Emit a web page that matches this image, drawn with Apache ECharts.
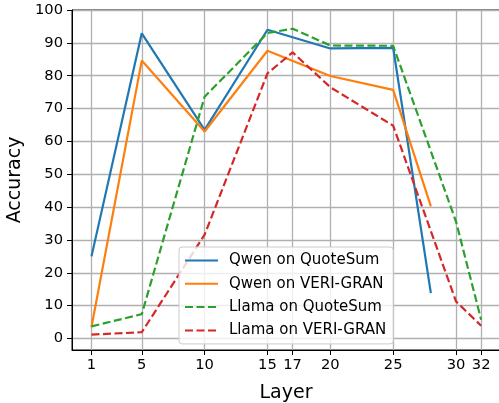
<!DOCTYPE html>
<html>
<head>
<meta charset="utf-8">
<script src="https://cdn.jsdelivr.net/npm/echarts@6/dist/echarts.min.js"></script>
<style>
html,body{margin:0;padding:0;background:#fff;}
#main{width:499px;height:403px;}
</style>
</head>
<body>
<div id="main"></div>
<script>
var chart = echarts.init(document.getElementById('main'), null, {renderer: 'canvas'});

// layers probed
var qwenLayers = [1, 5, 10, 15, 20, 25, 28];
var llamaLayers = [1, 5, 10, 15, 17, 20, 25, 30, 32];
// accuracy values
var qwenQuoteSum = [25.0, 92.9, 63.5, 94.0, 88.3, 88.5, 13.8];
var qwenVeriGran = [3.5, 84.6, 63.0, 87.6, 79.9, 75.7, 40.2];
var llamaQuoteSum = [3.7, 7.4, 73.6, 93.0, 94.3, 89.2, 89.1, 35.6, 5.7];
var llamaVeriGran = [1.2, 1.9, 31.6, 80.7, 87.1, 76.5, 64.8, 11.3, 3.9];
// tick labels
var xTicks = [1, 5, 10, 15, 17, 20, 25, 30, 32];
var yTicks = [0, 10, 20, 30, 40, 50, 60, 70, 80, 90, 100];

var font = 'DejaVu Sans';

function pairs(xs, ys) {
    return xs.map(function (x, i) { return [x, ys[i]]; });
}

function makeSeries(name, xs, ys, color, dashed) {
    return {
        name: name,
        type: 'line',
        data: pairs(xs, ys),
        symbol: 'none',
        animation: false,
        lineStyle: {
            color: color,
            width: 2.2,
            type: dashed ? [8, 3.5] : 'solid'
        },
        itemStyle: {color: color}
    };
}

var option = {
    backgroundColor: '#fff',
    animation: false,
    grid: {
        left: 72,
        right: -1,
        top: 10,
        bottom: 53,
        outerBoundsMode: 'none',
        containLabel: false,
        show: true,
        borderColor: '#000',
        borderWidth: 1,
        backgroundColor: 'transparent'
    },
    legend: {
        orient: 'vertical',
        left: 179,
        top: 247,
        padding: [6, 7, 6, 5],
        itemWidth: 33,
        itemHeight: 14,
        itemGap: 8.3,
        backgroundColor: 'rgba(255,255,255,0.8)',
        borderColor: '#cccccc',
        borderWidth: 1,
        borderRadius: 3,
        itemStyle: {color: 'transparent', borderWidth: 0, opacity: 0},
        textStyle: {
            fontFamily: font,
            fontSize: 15,
            color: '#000',
            padding: [0, 0, 0, 6]
        }
    },
    xAxis: {
        type: 'value',
        min: -0.55,
        max: 33.5,
        name: 'Layer',
        nameLocation: 'middle',
        nameGap: 34,
        nameTextStyle: {fontFamily: font, fontSize: 19, color: '#000'},
        axisLine: {show: true, onZero: false, lineStyle: {color: '#000', width: 1}},
        axisTick: {show: true, customValues: xTicks, length: 5, lineStyle: {color: '#000'}},
        axisLabel: {
            customValues: xTicks,
            margin: 8,
            fontFamily: font,
            fontSize: 14.7,
            color: '#000'
        },
        splitLine: {show: true, lineStyle: {color: '#b0b0b0', width: 1.3}}
    },
    yAxis: {
        type: 'value',
        min: -3.5,
        max: 100,
        name: 'Accuracy',
        nameLocation: 'middle',
        nameGap: 47,
        nameTextStyle: {fontFamily: font, fontSize: 19, color: '#000'},
        axisLine: {show: true, onZero: false, lineStyle: {color: '#000', width: 1}},
        axisTick: {show: true, customValues: yTicks, length: 5, lineStyle: {color: '#000'}},
        axisLabel: {
            customValues: yTicks,
            margin: 9,
            fontFamily: font,
            fontSize: 14.7,
            color: '#000'
        },
        splitLine: {show: true, lineStyle: {color: '#b0b0b0', width: 1.3}}
    },
    series: [
        makeSeries('Qwen on QuoteSum', qwenLayers, qwenQuoteSum, '#1f77b4', false),
        makeSeries('Qwen on VERI-GRAN', qwenLayers, qwenVeriGran, '#ff7f0e', false),
        makeSeries('Llama on QuoteSum', llamaLayers, llamaQuoteSum, '#2ca02c', true),
        makeSeries('Llama on VERI-GRAN', llamaLayers, llamaVeriGran, '#d62728', true)
    ]
};

chart.setOption(option);
</script>
</body>
</html>
